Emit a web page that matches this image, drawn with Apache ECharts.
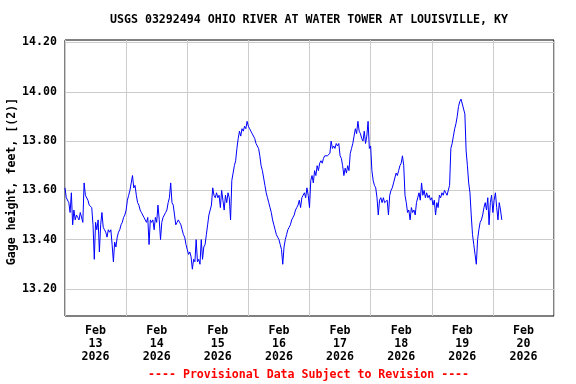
<!DOCTYPE html>
<html>
<head>
<meta charset="utf-8">
<script src="https://cdn.jsdelivr.net/npm/echarts@6/dist/echarts.min.js"></script>
<style>html,body{margin:0;padding:0;background:#fff;}#c{width:576px;height:384px;}</style>
</head>
<body>
<div id="c"></div>
<script>
const chartTitle = 'USGS 03292494 OHIO RIVER AT WATER TOWER AT LOUISVILLE, KY';
const footnote = '---- Provisional Data Subject to Revision ----';
const yAxisName = 'Gage height, feet, [(2)]';
// time axis in hours after Feb 13 2026 00:00
const xStartHour = 0;
const xEndHour = 192;
const dayLabels = ['Feb\n13\n2026','Feb\n14\n2026','Feb\n15\n2026','Feb\n16\n2026','Feb\n17\n2026','Feb\n18\n2026','Feb\n19\n2026','Feb\n20\n2026'];
const yMin = 13.09, yMax = 14.21;
const yTickMin = 13.2, yTickMax = 14.2, yTickStep = 0.2;
// gage height readings, every 30 minutes starting Feb 13 00:00
const startHour = 0;
const stepHours = 0.5;
const gageHeight = [
13.61,13.57,13.57,13.55,13.51,13.59,13.46,13.52,
13.48,13.50,13.49,13.48,13.51,13.51,13.47,13.63,
13.58,13.58,13.56,13.54,13.54,13.53,13.46,13.32,
13.47,13.44,13.48,13.35,13.46,13.51,13.45,13.44,
13.43,13.41,13.44,13.43,13.44,13.38,13.31,13.39,
13.37,13.41,13.43,13.44,13.46,13.47,13.49,13.50,
13.52,13.56,13.58,13.60,13.63,13.66,13.61,13.62,
13.58,13.55,13.54,13.52,13.51,13.50,13.49,13.48,
13.47,13.49,13.38,13.48,13.47,13.48,13.44,13.49,
13.47,13.54,13.48,13.40,13.47,13.49,13.50,13.51,
13.52,13.55,13.57,13.63,13.55,13.54,13.50,13.46,
13.47,13.48,13.47,13.46,13.44,13.42,13.41,13.38,
13.36,13.34,13.35,13.33,13.28,13.32,13.31,13.40,
13.31,13.32,13.30,13.40,13.32,13.37,13.38,13.42,
13.46,13.50,13.52,13.54,13.61,13.58,13.57,13.59,
13.57,13.58,13.53,13.60,13.56,13.52,13.58,13.55,
13.59,13.57,13.48,13.64,13.67,13.70,13.72,13.77,
13.81,13.84,13.82,13.85,13.84,13.86,13.85,13.88,
13.86,13.85,13.84,13.83,13.82,13.81,13.79,13.78,
13.77,13.74,13.70,13.68,13.65,13.62,13.59,13.57,
13.55,13.53,13.51,13.48,13.46,13.44,13.42,13.41,
13.40,13.38,13.36,13.30,13.37,13.40,13.42,13.44,
13.45,13.46,13.48,13.49,13.50,13.52,13.53,13.54,
13.56,13.53,13.57,13.58,13.59,13.57,13.61,13.58,
13.53,13.64,13.66,13.63,13.68,13.66,13.70,13.68,
13.71,13.72,13.71,13.73,13.74,13.74,13.74,13.74,
13.75,13.80,13.77,13.78,13.77,13.79,13.78,13.79,
13.74,13.73,13.70,13.66,13.69,13.67,13.70,13.68,
13.75,13.77,13.79,13.82,13.85,13.83,13.88,13.84,
13.83,13.81,13.80,13.84,13.79,13.82,13.88,13.77,
13.78,13.68,13.64,13.62,13.61,13.57,13.50,13.56,
13.57,13.55,13.57,13.55,13.55,13.56,13.50,13.58,
13.60,13.61,13.63,13.65,13.67,13.66,13.68,13.70,
13.71,13.74,13.70,13.58,13.55,13.51,13.52,13.48,
13.53,13.51,13.52,13.50,13.55,13.57,13.59,13.56,
13.63,13.58,13.60,13.57,13.59,13.57,13.58,13.56,
13.57,13.54,13.56,13.50,13.55,13.53,13.58,13.57,
13.59,13.58,13.60,13.59,13.58,13.60,13.62,13.77,
13.79,13.82,13.85,13.87,13.90,13.94,13.96,13.97,
13.95,13.93,13.91,13.76,13.70,13.63,13.59,13.50,
13.42,13.38,13.34,13.30,13.40,13.44,13.47,13.48,
13.50,13.53,13.55,13.52,13.57,13.46,13.55,13.58,
13.51,13.56,13.59,13.53,13.48,13.55,13.52,13.48
];

const FONT = 'DejaVu Sans Mono';
const gridLeft = 65, gridRight = 22, gridTop = 40, gridBottom = 68;
const plotH = 384 - gridTop - gridBottom;
const tickGridTop = gridTop + (yMax - yTickMax) / (yMax - yMin) * plotH;
const tickGridBottom = gridBottom + (yTickMin - yMin) / (yMax - yMin) * plotH;

const seriesData = gageHeight.map((v, i) => [startHour + i * stepHours, v]);

const chart = echarts.init(document.getElementById('c'), null, {renderer: 'canvas'});
chart.setOption({
  animation: false,
  backgroundColor: '#fff',
  title: [
    {text: chartTitle, left: 105, top: 9,
     textStyle: {fontFamily: FONT, fontSize: 11.6, fontWeight: 'bold', color: '#000'}},
    {text: footnote, left: 143, top: 364,
     textStyle: {fontFamily: FONT, fontSize: 11.6, fontWeight: 'bold', color: '#ff0000'}}
  ],
  grid: [
    {left: gridLeft, right: gridRight, top: gridTop, bottom: gridBottom, outerBoundsMode: 'none',
     show: true, borderColor: '#000', borderWidth: 1, backgroundColor: 'transparent', containLabel: false},
    {left: gridLeft, right: gridRight, top: tickGridTop, bottom: tickGridBottom, outerBoundsMode: 'none',
     show: false, containLabel: false}
  ],
  xAxis: [
    {type: 'value', gridIndex: 0, min: xStartHour, max: xEndHour, interval: 24,
     axisLine: {show: false}, axisTick: {show: false}, axisLabel: {show: false},
     splitLine: {show: true, lineStyle: {color: '#cccccc', width: 1}}},
    {type: 'value', gridIndex: 0, min: xStartHour, max: xEndHour, interval: 12, position: 'bottom',
     axisLine: {show: false}, axisTick: {show: false}, splitLine: {show: false},
     axisLabel: {show: true, margin: 8, fontFamily: FONT, fontSize: 11.6, fontWeight: 'bold', color: '#000', lineHeight: 13,
       formatter: function (v) { return (v % 24 === 12) ? dayLabels[(v - 12) / 24] : ''; }}},
    {type: 'value', gridIndex: 1, min: xStartHour, max: xEndHour, show: false}
  ],
  yAxis: [
    {type: 'value', gridIndex: 0, min: yMin, max: yMax,
     axisLine: {show: false}, axisTick: {show: false}, axisLabel: {show: false}, splitLine: {show: false},
     name: yAxisName, nameLocation: 'middle', nameGap: 47, nameRotate: 90,
     nameTextStyle: {fontFamily: FONT, fontSize: 11.6, fontWeight: 'bold', color: '#000', padding: [0, 7, 0, 0]}},
    {type: 'value', gridIndex: 1, min: yTickMin, max: yTickMax, interval: yTickStep,
     axisLine: {show: false}, axisTick: {show: false},
     axisLabel: {margin: 8, fontFamily: FONT, fontSize: 11.6, fontWeight: 'bold', color: '#000',
       formatter: function (v) { return v.toFixed(2); }},
     splitLine: {show: true, lineStyle: {color: '#cccccc', width: 1}}}
  ],
  series: [
    {type: 'line', xAxisIndex: 0, yAxisIndex: 0, data: seriesData, showSymbol: false, symbol: 'none',
     lineStyle: {color: '#0000ff', width: 1}, z: 5}
  ]
});
</script>
</body>
</html>
